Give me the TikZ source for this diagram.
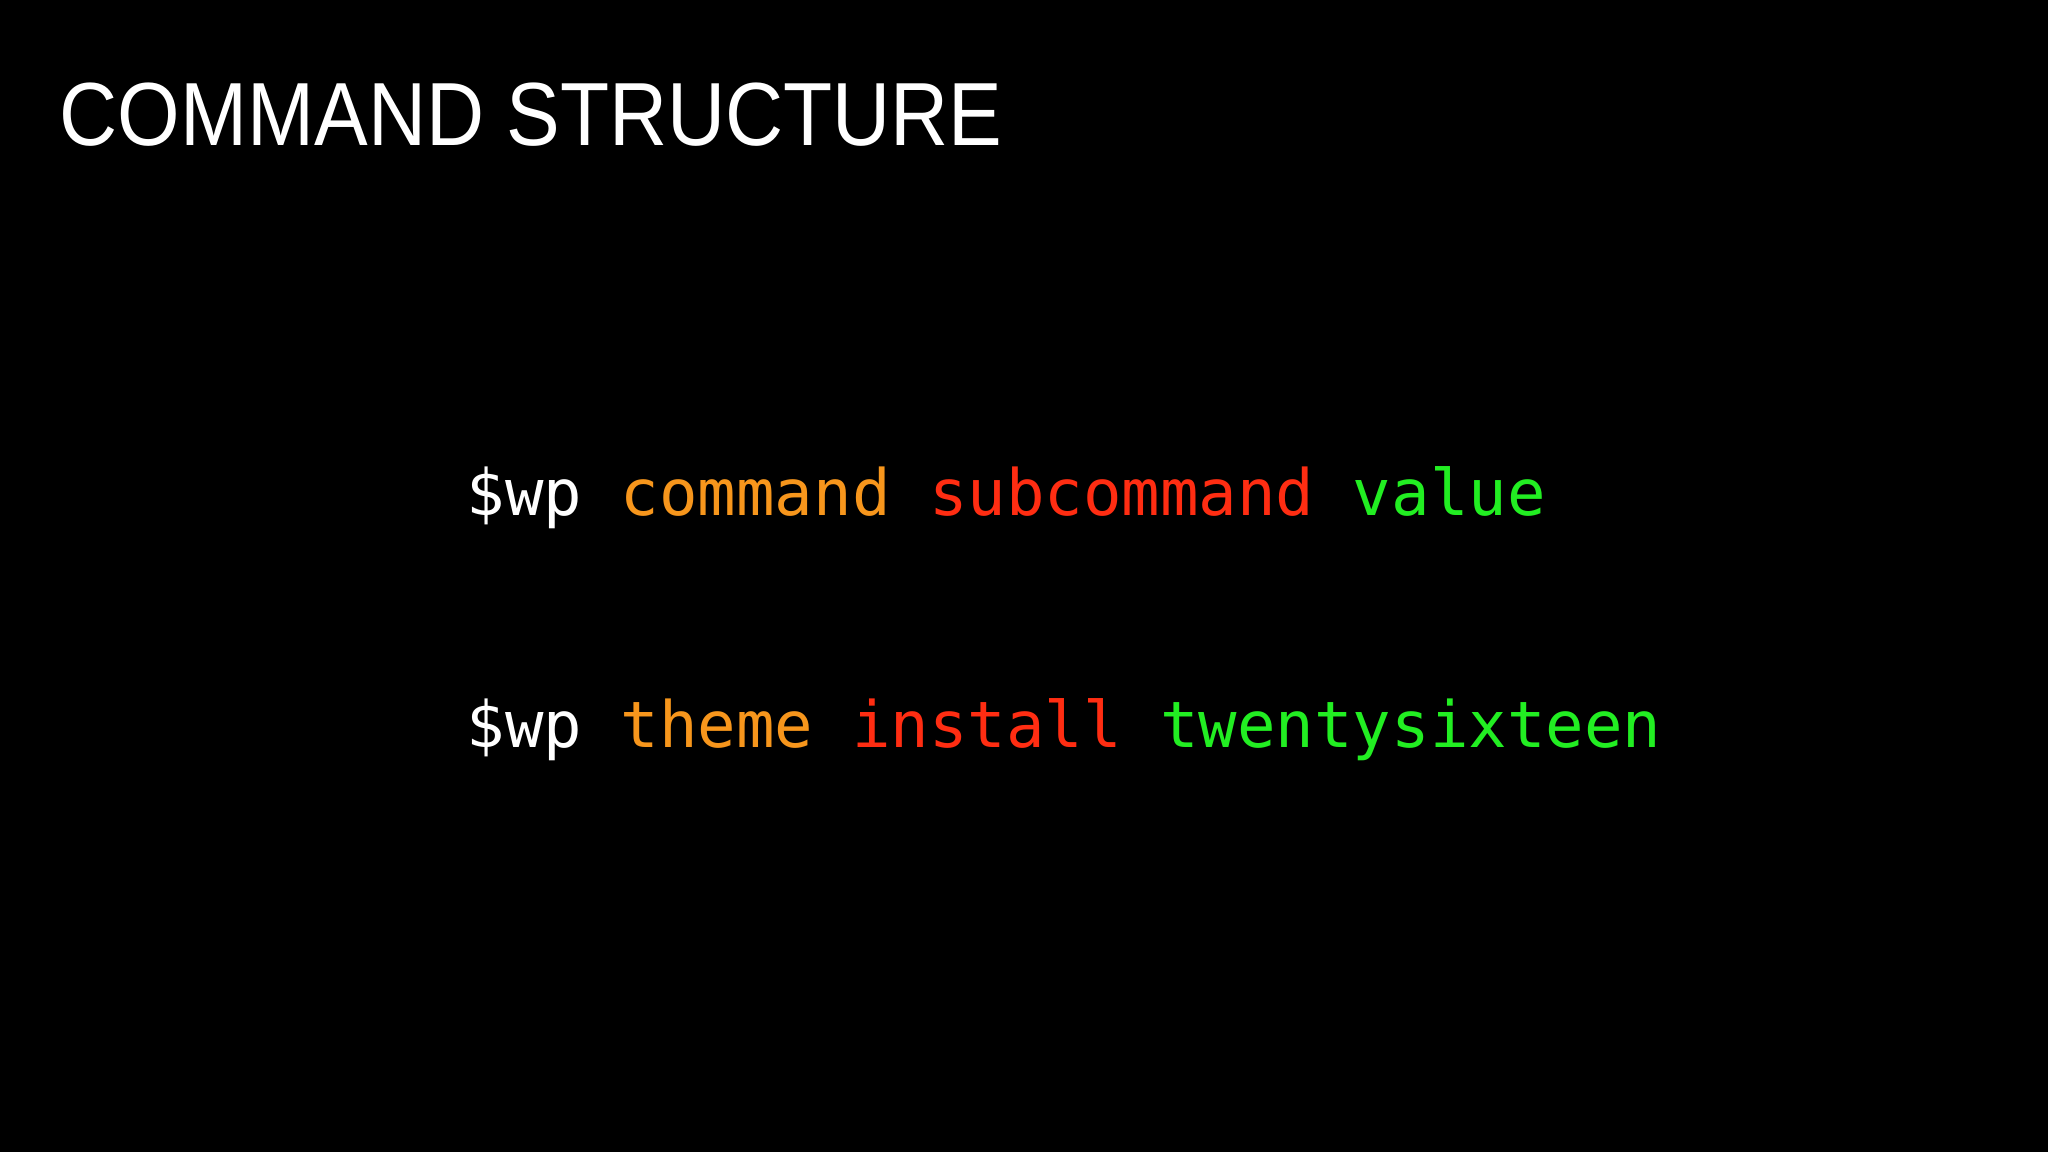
\documentclass[tikz,border=0pt]{standalone}
\usepackage{fontspec}
\setmainfont{Liberation Sans}
\newfontfamily\monof{DejaVu Sans Mono}
\definecolor{cOr}{HTML}{F7961C}
\definecolor{cRd}{HTML}{FF2D12}
\definecolor{cGr}{HTML}{22EE22}
\begin{document}
\begin{tikzpicture}[x=0.01cm,y=-0.01cm,
  txt/.style={inner sep=0pt,anchor=base west,text=white},
  code/.style={txt,font=\monof\fontsize{18.2pt}{20pt}\selectfont}]
\fill[black] (0,0) rectangle (2048,1152);
\useasboundingbox (0,0) rectangle (2048,1152);
\node[txt,font=\fontsize{25.5pt}{28pt}\selectfont] (title) at (59,146) {\scalebox{0.897}[1]{COMMAND STRUCTURE}};
\node[code] (l1) at (466,516) {\$wp \textcolor{cOr}{command} \textcolor{cRd}{subcommand} \textcolor{cGr}{value}};
\node[code] (l2) at (466,747) {\$wp \textcolor{cOr}{theme} \textcolor{cRd}{install} \textcolor{cGr}{twentysixteen}};
\end{tikzpicture}
\end{document}
